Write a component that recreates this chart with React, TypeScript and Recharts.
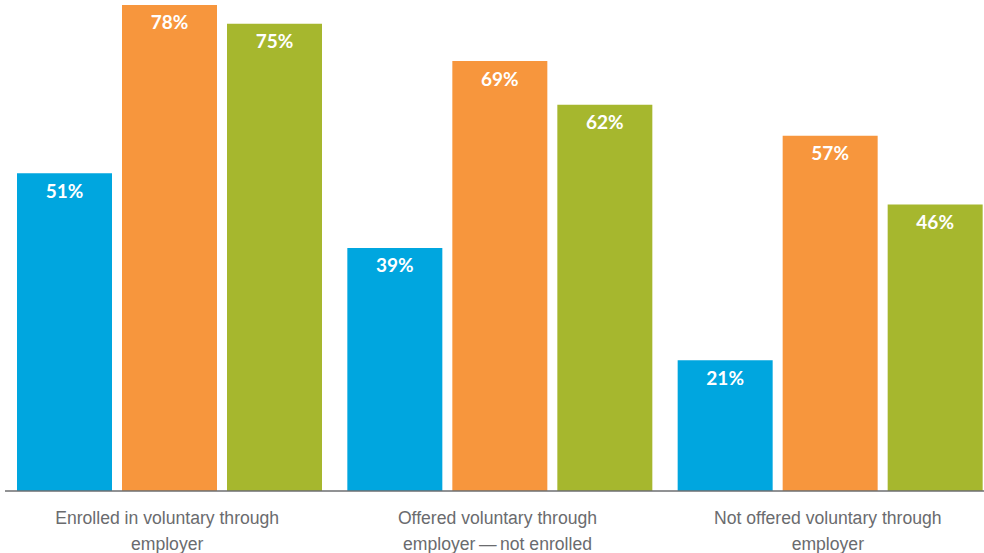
import { BarChart, Bar, XAxis, YAxis, LabelList } from 'recharts';

const categories = [
  'Enrolled in voluntary through\nemployer',
  'Offered voluntary through\nemployer\u2009\u2014\u2009not enrolled',
  'Not offered voluntary through\nemployer',
];
const blueValues = [51, 39, 21];
const orangeValues = [78, 69, 57];
const greenValues = [75, 62, 46];

const COLORS = { blue: '#00a6df', orange: '#f7963d', green: '#a6b72e' };

const data = categories.map((name, i) => ({
  name,
  blue: blueValues[i],
  orange: orangeValues[i],
  green: greenValues[i],
}));

function CategoryTick({ x, y, payload }: any) {
  const lines = String(payload.value).split('\n');
  return (
    <text
      x={x}
      y={y}
      textAnchor="middle"
      fill="#6a6b6e"
      fontFamily="'Liberation Sans', Arial, sans-serif"
      fontSize={17.6}
    >
      {lines.map((line, i) => (
        <tspan key={i} x={x - 3} dy={i === 0 ? 27 : 26}>
          {line}
        </tspan>
      ))}
    </text>
  );
}

const labelStyle = {
  fill: '#ffffff',
  fontFamily: 'Lato, sans-serif',
  fontWeight: 700,
  fontSize: 19,
};

const pct = (v: any) => `${v}%`;

export default function App() {
  return (
    <div
      style={{
        position: 'absolute',
        left: 0,
        top: 0,
        width: 984,
        height: 553,
        overflow: 'hidden',
        background: '#fff',
      }}
    >
      <BarChart
        width={1000}
        height={553}
        data={data}
        margin={{ top: 5, right: 4, left: 5, bottom: 0 }}
        barCategoryGap={12}
        barGap={10}
      >
        <XAxis
          dataKey="name"
          axisLine={{ stroke: '#6d6e71', strokeWidth: 1.5 }}
          tickLine={false}
          tickMargin={0}
          height={62}
          interval={0}
          tick={<CategoryTick />}
        />
        <YAxis hide domain={[0, 78]} />
        <Bar dataKey="blue" fill={COLORS.blue} isAnimationActive={false}>
          <LabelList dataKey="blue" position="insideTop" offset={11} formatter={pct} style={labelStyle} />
        </Bar>
        <Bar dataKey="orange" fill={COLORS.orange} isAnimationActive={false}>
          <LabelList dataKey="orange" position="insideTop" offset={11} formatter={pct} style={labelStyle} />
        </Bar>
        <Bar dataKey="green" fill={COLORS.green} isAnimationActive={false}>
          <LabelList dataKey="green" position="insideTop" offset={11} formatter={pct} style={labelStyle} />
        </Bar>
      </BarChart>
    </div>
  );
}
